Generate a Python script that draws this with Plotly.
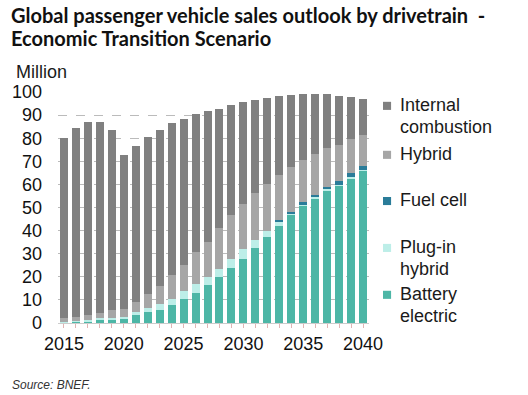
import plotly.graph_objects as go

years = list(range(2015, 2041))
bev = [0.3, 0.5, 0.8, 1.4, 1.6, 1.9, 3.3, 4.6, 5.8, 7.7, 10.3, 13.2, 16.4, 19.7, 23.6, 27.5,
       32.3, 37.1, 41.9, 46.7, 51.0, 53.9, 57.5, 59.4, 62.5, 65.9]
phev = [0.2, 0.3, 0.4, 0.7, 0.6, 0.9, 1.3, 2.1, 2.3, 2.7, 3.5, 3.5, 3.5, 3.5, 3.9, 4.4,
        3.5, 2.9, 2.2, 0.9, 0.5, 0.5, 0.5, 0.5, 0.5, 0.4]
fuel = [0, 0, 0, 0, 0, 0, 0, 0, 0, 0, 0, 0, 0, 0, 0, 0,
        0, 0, 0.4, 0.6, 0.8, 1.0, 1.0, 1.5, 2.0, 1.8]
hybrid = [1.8, 1.9, 2.1, 2.2, 3.3, 3.4, 4.4, 5.8, 7.9, 10.3, 11.1, 13.9, 15.3, 18.0, 19.3, 19.5,
          20.6, 20.3, 19.6, 19.3, 18.3, 17.8, 16.7, 15.7, 14.7, 13.1]
ice = [77.7, 81.9, 83.5, 82.7, 78.1, 66.4, 67.7, 68.2, 67.6, 65.7, 63.4, 59.7, 56.4, 51.6, 47.4, 44.3,
       40.3, 36.9, 34.2, 31.3, 28.7, 26.1, 23.3, 21.2, 18.1, 15.7]

series = [
    ("Battery electric", bev, "#4db6a6"),
    ("Plug-in hybrid", phev, "#bdeee8"),
    ("Fuel cell", fuel, "#2a7c99"),
    ("Hybrid", hybrid, "#a6a6a6"),
    ("Internal combustion", ice, "#808080"),
]
y_ticks = list(range(0, 101, 10))
x_labels = [str(y) if y % 5 == 0 else "" for y in years]

fig = go.Figure()
for name, vals, col in series:
    fig.add_trace(go.Bar(x=years, y=vals, name=name, marker=dict(color=col, line=dict(width=0)),
                         showlegend=False))

font_main = "Liberation Sans, Arial, sans-serif"
font_title = "Lato, Open Sans, sans-serif"

# custom legend: (lines, colour, paper y of each line centre)
legend_items = [
    (["Internal", "combustion"], "#808080", [0.944, 0.848]),
    (["Hybrid"], "#a6a6a6", [0.732]),
    (["Fuel cell"], "#2a7c99", [0.532]),
    (["Plug-in", "hybrid"], "#bdeee8", [0.329, 0.234]),
    (["Battery", "electric"], "#4db6a6", [0.126, 0.030]),
]
for lines, col, ys in legend_items:
    for line, yp in zip(lines, ys):
        fig.add_annotation(xref="paper", yref="paper", x=1.093, y=yp, text=line,
                           showarrow=False, xanchor="left", yanchor="middle", align="left",
                           font=dict(family=font_main, size=18, color="#1a1a1a"))
    yc = ys[0] - 0.004
    fig.add_shape(type="rect", xref="paper", yref="paper",
                  x0=1.045, x1=1.071, y0=yc - 0.0175, y1=yc + 0.0175,
                  fillcolor=col, line=dict(width=0))

fig.add_annotation(xref="paper", yref="paper", x=-0.142, y=1.088, text="Million",
                   showarrow=False, xanchor="left", yanchor="middle",
                   font=dict(family=font_main, size=18, color="#1a1a1a"))
fig.add_annotation(xref="paper", yref="paper", x=-0.155, y=-0.268, text="<i>Source: BNEF.</i>",
                   showarrow=False, xanchor="left", yanchor="middle",
                   font=dict(family=font_main, size=12, color="#333333"))
fig.add_annotation(xref="paper", yref="paper", x=-0.158, y=1.333,
                   text="<b>Global passenger vehicle sales outlook by drivetrain  -</b>",
                   showarrow=False, xanchor="left", yanchor="middle",
                   font=dict(family=font_title, size=20, color="#111111"))
fig.add_annotation(xref="paper", yref="paper", x=-0.158, y=1.232,
                   text="<b>Economic Transition Scenario</b>",
                   showarrow=False, xanchor="left", yanchor="middle",
                   font=dict(family=font_title, size=20, color="#111111"))

fig.update_layout(
    barmode="stack",
    bargap=0.33,
    width=528, height=395,
    margin=dict(l=56, r=159, t=92, b=72),
    paper_bgcolor="white", plot_bgcolor="white",
    xaxis=dict(range=[2014.5, 2040.5], tickmode="array", tickvals=years, ticktext=x_labels,
               ticks="outside", ticklen=4, tickcolor="#e0b4b4", showgrid=False,
               showline=True, linecolor="#cccccc", linewidth=1,
               tickfont=dict(family=font_main, size=18, color="#111111")),
    yaxis=dict(range=[0, 100], tickmode="array", tickvals=y_ticks, showgrid=True,
               gridcolor="#bbbbbb", griddash="dash", gridwidth=1, zeroline=False,
               ticks="", ticklabelstandoff=15,
               tickfont=dict(family=font_main, size=18, color="#111111")),
)

fig.write_html("out.html", config={"displayModeBar": False},
               post_script="document.body.style.margin='0';")
